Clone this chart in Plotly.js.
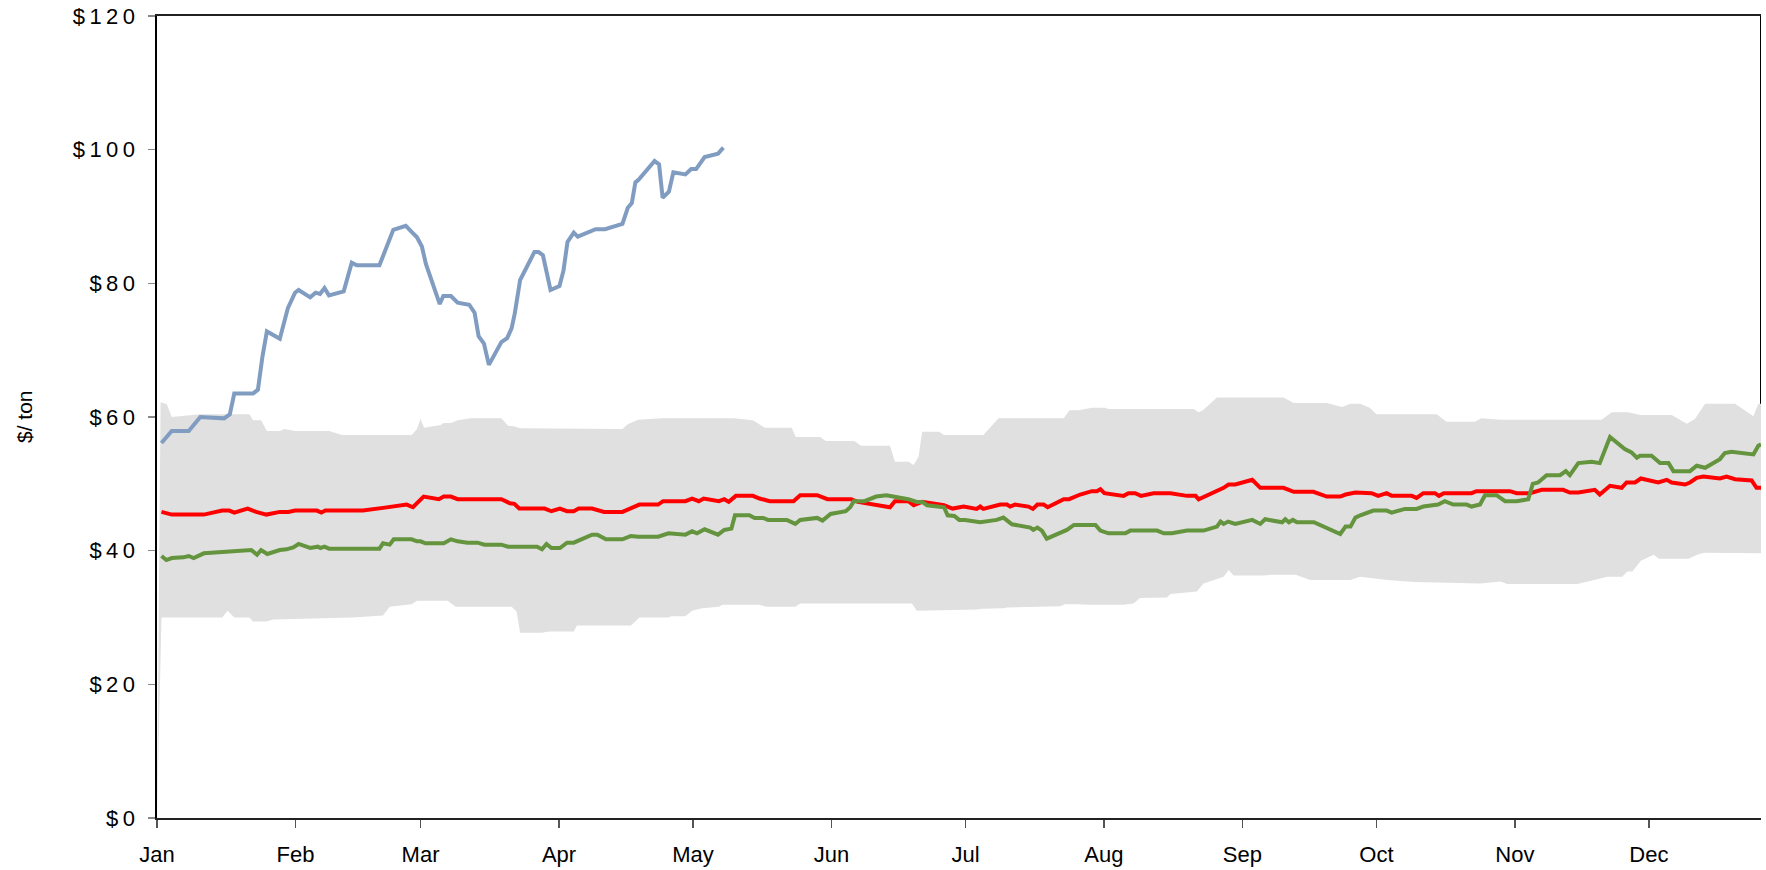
<!DOCTYPE html>
<html>
<head>
<meta charset="utf-8">
<script src="https://cdn.plot.ly/plotly-3.0.1.min.js"></script>
<style>
  html, body { margin: 0; padding: 0; background: #fff; }
  #chart { width: 1766px; height: 870px; }
  .ytick text { letter-spacing: 4.5px; }
</style>
</head>
<body>
<div id="chart"></div>
<script>
// x values are day offsets from Jan 1
const monthStarts = [0, 31, 59, 90, 120, 151, 181, 212, 243, 273, 304, 334];
const monthLabels = ['Jan', 'Feb', 'Mar', 'Apr', 'May', 'Jun', 'Jul', 'Aug', 'Sep', 'Oct', 'Nov', 'Dec'];
const yTickVals = [0, 20, 40, 60, 80, 100, 120];
const yTickText = ['$0', '$20', '$40', '$60', '$80', '$100', '$120'];
const xEnd = 359.1;

// historic range band (low / high)
const bandLoDay = [0, 1.0, 14.6, 15.8, 17.3, 20.7, 21.5, 24.5, 26.0, 43.8, 50.6, 52.1, 57.0, 58.2, 65.0, 66.9, 79.4, 80.5, 81.3, 86.2,
  87.7, 93.3, 94.0, 106.1, 108.0, 114.5, 115.2, 118.3, 119.8, 122.0, 125.8, 126.6, 134.9, 136.4, 142.9, 144.0, 169.0, 170.1, 183.6, 184.7,
  189.5, 190.3, 202.2, 203.3, 205.9, 208.9, 216.4, 218.6, 220.1, 226.1, 226.9, 232.8, 234.3, 237.3, 238.8, 239.9, 241.0, 247.8, 249.3, 254.9,
  258.2, 267.2, 269.4, 275.4, 281.4, 296.3, 300.8, 302.3, 318.0, 321.7, 324.7, 328.0, 329.2, 330.3, 332.2, 335.1, 336.2, 342.9, 344.8, 346.3, 359.1];
const bandLo = [0, 30.0, 30.0, 31.0, 30.0, 30.0, 29.4, 29.4, 29.7, 30.0, 30.3, 31.6, 32.0, 32.5, 32.5, 31.6, 31.6, 30.9, 27.7, 27.7,
  27.9, 27.9, 28.8, 28.8, 30.0, 30.0, 30.2, 30.2, 31.0, 31.4, 31.6, 31.9, 31.9, 31.6, 31.6, 32.1, 32.1, 31.0, 31.2, 31.3,
  31.4, 31.5, 31.7, 32.0, 32.0, 31.9, 31.9, 32.1, 32.9, 33.0, 33.5, 33.9, 35.1, 35.8, 36.1, 37.1, 36.3, 36.3, 36.4, 36.4,
  35.6, 35.6, 36.1, 35.6, 35.3, 35.1, 35.4, 35.0, 35.0, 35.6, 36.1, 36.1, 36.9, 36.9, 38.5, 39.4, 38.8, 38.8, 39.4, 39.7, 39.6];

const bandHiDay = [0.8, 2.2, 3.3, 9.7, 20.7, 21.5, 23.3, 24.6, 27.5, 28.5, 30.9, 38.5, 41.5, 57.0, 58.2, 59.0, 59.8, 63.5, 64.2, 65.8,
  67.3, 70.3, 77.1, 78.6, 79.8, 81.3, 104.2, 105.4, 107.7, 113.0, 129.2, 133.4, 136.1, 142.1, 143.0, 148.5, 149.7, 156.1, 157.6, 164.1,
  165.2, 168.2, 169.4, 170.5, 171.3, 175.1, 176.2, 185.0, 188.4, 203.0, 204.3, 206.3, 209.3, 212.3, 213.0, 232.1, 233.2, 234.3, 237.3, 252.2,
  254.5, 261.9, 265.3, 267.2, 269.4, 271.5, 273.0, 286.5, 288.7, 295.0, 296.5, 300.6, 323.4, 325.7, 329.4, 332.0, 339.1, 342.5, 344.3, 346.6,
  353.3, 357.4, 358.5, 359.1];
const bandHi = [62.2, 61.9, 60.0, 60.4, 60.4, 59.5, 59.5, 57.9, 57.9, 58.2, 57.9, 57.9, 57.3, 57.3, 58.2, 59.7, 58.4, 58.8, 59.1, 59.1,
  59.5, 59.8, 59.8, 58.7, 58.6, 58.3, 58.2, 58.9, 59.6, 59.8, 59.8, 59.5, 58.4, 58.4, 57.0, 57.0, 56.4, 56.4, 55.7, 55.7,
  53.3, 53.3, 52.8, 54.1, 57.8, 57.8, 57.3, 57.3, 59.8, 59.8, 61.0, 61.0, 61.4, 61.4, 61.2, 61.2, 60.7, 61.1, 62.9, 62.9,
  62.1, 62.1, 61.5, 62.0, 62.0, 61.4, 60.4, 60.4, 59.3, 59.3, 59.8, 59.6, 59.6, 60.7, 60.7, 60.3, 60.3, 59.0, 59.7, 62.0,
  62.0, 60.1, 62.0, 62.0];

// average (red)
const avgDay = [1.0, 3.3, 10.5, 14.6, 16.2, 17.3, 20.3, 22.2, 24.5, 27.5, 29.4, 30.9, 35.8, 36.8, 37.7, 46.1, 50.6, 55.9, 57.3, 59.7,
  63.1, 64.2, 65.8, 67.3, 77.1, 79.0, 80.0, 81.1, 86.8, 88.3, 90.2, 91.8, 93.3, 94.4, 97.4, 100.1, 104.2, 106.1, 108.0, 112.2,
  113.3, 118.3, 119.8, 121.3, 122.4, 125.8, 127.0, 128.0, 129.6, 133.4, 134.9, 137.2, 142.5, 144.0, 147.8, 150.1, 155.4, 156.9, 161.4, 164.1,
  165.2, 168.2, 169.4, 171.3, 176.2, 178.1, 180.6, 183.5, 184.3, 185.0, 188.8, 190.3, 191.0, 192.1, 195.1, 196.1, 197.1, 198.5, 199.4, 203.0,
  204.2, 206.7, 209.3, 210.4, 211.2, 212.1, 216.4, 217.5, 219.0, 220.3, 223.1, 226.9, 230.6, 232.5, 233.2, 237.3, 238.8, 239.9, 241.4, 245.2,
  247.0, 252.2, 254.5, 258.9, 261.9, 264.9, 266.1, 268.3, 271.9, 273.4, 275.3, 276.4, 280.9, 282.0, 283.5, 286.1, 287.0, 288.1, 294.3, 295.4,
  302.9, 304.4, 307.4, 310.0, 314.8, 316.3, 318.2, 321.9, 323.0, 325.3, 327.9, 329.0, 330.9, 332.2, 336.1, 338.0, 339.1, 342.1, 343.2, 344.7,
  346.2, 349.9, 351.4, 353.3, 357.0, 358.1, 359.1];
const avgVal = [45.8, 45.4, 45.4, 46.0, 46.0, 45.7, 46.3, 45.8, 45.4, 45.8, 45.8, 46.0, 46.0, 45.7, 46.0, 46.0, 46.4, 46.9, 46.5, 48.1,
  47.7, 48.1, 48.1, 47.7, 47.7, 47.1, 47.0, 46.3, 46.3, 45.9, 46.3, 45.9, 45.9, 46.3, 46.3, 45.8, 45.8, 46.3, 46.9, 46.9,
  47.4, 47.4, 47.8, 47.4, 47.8, 47.4, 47.7, 47.3, 48.2, 48.2, 47.8, 47.4, 47.4, 48.3, 48.3, 47.7, 47.7, 47.3, 46.8, 46.5,
  47.4, 47.4, 46.8, 47.3, 46.8, 46.3, 46.6, 46.25, 46.6, 46.25, 46.9, 46.9, 46.6, 46.9, 46.6, 46.25, 46.9, 46.9, 46.5, 47.7,
  47.7, 48.4, 48.9, 48.9, 49.2, 48.6, 48.2, 48.6, 48.6, 48.2, 48.6, 48.6, 48.2, 48.2, 47.7, 48.9, 49.4, 49.9, 49.9, 50.6,
  49.4, 49.4, 48.8, 48.8, 48.1, 48.1, 48.4, 48.7, 48.6, 48.2, 48.6, 48.2, 48.2, 47.9, 48.6, 48.6, 48.2, 48.6, 48.6, 48.9,
  48.9, 48.6, 48.6, 49.1, 49.1, 48.7, 48.7, 49.1, 48.4, 49.7, 49.4, 50.2, 50.2, 50.8, 50.2, 50.6, 50.2, 49.9, 50.2, 50.9,
  51.1, 50.8, 51.1, 50.7, 50.5, 49.4, 49.4];

// last year (green)
const lastDay = [1.0, 2.1, 3.3, 5.9, 7.1, 8.2, 10.5, 17.3, 21.1, 22.4, 23.3, 24.7, 27.5, 29.0, 30.5, 31.7, 34.3, 36.0, 36.6, 37.5,
  38.5, 49.8, 50.6, 52.1, 53.0, 57.0, 58.2, 59.0, 60.1, 64.2, 65.8, 67.3, 69.5, 71.8, 73.3, 77.1, 78.6, 85.1, 86.2, 87.2,
  88.3, 90.2, 91.8, 93.3, 97.4, 98.6, 100.5, 104.2, 106.1, 107.7, 112.2, 114.5, 118.3, 119.8, 120.9, 122.6, 125.6, 127.0, 128.6, 129.4,
  132.6, 133.8, 135.7, 136.8, 141.0, 142.9, 144.0, 147.8, 149.0, 150.8, 154.2, 155.2, 156.0, 158.4, 161.0, 163.3, 164.1, 168.2, 170.1, 171.3,
  172.4, 176.2, 177.0, 178.5, 179.6, 180.9, 184.3, 188.0, 189.5, 191.4, 195.5, 196.2, 197.1, 198.1, 199.2, 203.7, 205.3, 210.1, 211.2, 213.0,
  216.8, 217.9, 223.9, 225.4, 227.2, 230.6, 234.3, 237.3, 238.1, 238.8, 239.8, 241.4, 245.2, 247.0, 248.1, 251.9, 252.6, 253.4, 254.3, 255.2,
  259.0, 261.2, 264.9, 266.1, 267.2, 268.3, 269.4, 272.3, 275.3, 276.4, 279.4, 282.0, 283.5, 286.8, 288.3, 290.2, 293.2, 294.3, 296.2, 297.3,
  299.9, 301.8, 304.4, 307.0, 308.0, 309.2, 311.1, 314.1, 315.4, 316.3, 318.2, 321.2, 323.0, 325.3, 328.6, 330.1, 331.3, 332.0, 334.6, 336.5,
  338.4, 339.5, 343.2, 344.7, 346.6, 349.9, 351.0, 352.5, 357.4, 358.5, 359.1];
const lastVal = [39.2, 38.6, 38.9, 39.0, 39.2, 38.9, 39.6, 39.9, 40.1, 39.4, 40.1, 39.5, 40.1, 40.2, 40.5, 41.0, 40.4, 40.6, 40.4, 40.6,
  40.3, 40.3, 41.1, 40.9, 41.7, 41.7, 41.4, 41.4, 41.1, 41.1, 41.7, 41.4, 41.2, 41.2, 40.9, 40.9, 40.6, 40.6, 40.2, 41.0,
  40.4, 40.4, 41.2, 41.2, 42.4, 42.4, 41.7, 41.7, 42.2, 42.1, 42.1, 42.6, 42.4, 42.9, 42.6, 43.2, 42.4, 43.1, 43.3, 45.3,
  45.3, 44.9, 44.9, 44.6, 44.6, 44.0, 44.6, 44.9, 44.5, 45.5, 45.9, 46.5, 47.4, 47.4, 48.1, 48.3, 48.2, 47.7, 47.3, 47.3,
  46.8, 46.5, 45.3, 45.2, 44.6, 44.6, 44.25, 44.6, 44.95, 43.95, 43.45, 43.1, 43.45, 43.0, 41.8, 43.1, 43.85, 43.85, 43.0, 42.6,
  42.6, 43.0, 43.0, 42.6, 42.6, 43.0, 43.0, 43.6, 44.35, 44.0, 44.35, 44.0, 44.6, 44.0, 44.7, 44.25, 44.7, 44.25, 44.6, 44.25,
  44.25, 43.6, 42.5, 43.6, 43.6, 44.95, 45.3, 46.0, 46.0, 45.7, 46.25, 46.25, 46.6, 46.9, 47.4, 46.9, 46.9, 46.6, 46.9, 48.3,
  48.3, 47.4, 47.4, 47.7, 50.0, 50.2, 51.3, 51.3, 51.9, 51.3, 53.1, 53.3, 53.1, 57.0, 55.2, 54.7, 53.9, 54.2, 54.2, 53.1,
  53.1, 51.9, 51.9, 52.7, 52.4, 53.7, 54.6, 54.8, 54.4, 55.7, 55.9];

// current year (blue)
const curDay = [1.0, 3.3, 7.1, 9.7, 15.0, 16.3, 17.3, 21.5, 22.6, 23.6, 24.6, 27.5, 29.3, 30.9, 31.7, 34.3, 35.5, 36.5, 37.5, 38.5,
  41.8, 43.6, 44.7, 49.8, 52.9, 55.7, 57.0, 58.2, 59.3, 60.2, 63.3, 64.1, 65.8, 67.3, 69.9, 71.1, 72.0, 73.2, 74.3, 77.1,
  78.4, 79.4, 80.1, 81.3, 84.5, 85.4, 86.4, 88.1, 90.1, 91.0, 91.9, 93.3, 94.2, 96.3, 98.2, 100.3, 104.2, 105.4, 106.3, 107.1,
  107.8, 111.4, 112.4, 113.2, 114.6, 115.6, 118.3, 119.6, 120.7, 122.6, 125.6, 126.8];
const curVal = [56.1, 57.9, 57.9, 60.0, 59.8, 60.4, 63.5, 63.5, 64.1, 69.0, 72.8, 71.7, 76.3, 78.6, 79.0, 77.9, 78.6, 78.4, 79.3, 78.2,
  78.8, 83.1, 82.7, 82.7, 88.0, 88.6, 87.7, 86.9, 85.5, 82.9, 76.9, 78.1, 78.1, 77.1, 76.8, 75.6, 72.1, 71.0, 67.8, 71.2,
  71.8, 73.3, 75.5, 80.5, 84.7, 84.7, 84.2, 79.0, 79.6, 81.9, 86.2, 87.6, 87.0, 87.6, 88.1, 88.1, 88.9, 91.3, 92.0, 95.1,
  95.5, 98.3, 97.8, 92.8, 93.7, 96.6, 96.3, 97.1, 97.1, 98.9, 99.4, 100.3];

const FONT = '"Liberation Sans", Arial, sans-serif';

const traces = [
  { x: bandLoDay, y: bandLo, type: 'scatter', mode: 'lines', line: { width: 0, color: 'rgba(0,0,0,0)' }, hoverinfo: 'skip' },
  { x: bandHiDay, y: bandHi, type: 'scatter', mode: 'lines', fill: 'tonexty', fillcolor: '#e0e0e0',
    line: { width: 0, color: 'rgba(0,0,0,0)' }, hoverinfo: 'skip' },
  { x: avgDay, y: avgVal, type: 'scatter', mode: 'lines', line: { color: '#ff0000', width: 4 } },
  { x: lastDay, y: lastVal, type: 'scatter', mode: 'lines', line: { color: '#64943e', width: 4 } },
  { x: curDay, y: curVal, type: 'scatter', mode: 'lines', line: { color: '#819cc1', width: 4 } }
];

const layout = {
  width: 1766, height: 870,
  margin: { l: 157, r: 5, t: 16, b: 52 },
  paper_bgcolor: '#fff', plot_bgcolor: '#fff',
  showlegend: false,
  font: { family: FONT, color: '#000' },
  xaxis: {
    range: [0, xEnd], tickmode: 'array', tickvals: monthStarts, ticktext: monthLabels,
    showgrid: false, zeroline: false,
    showline: true, linecolor: '#222', linewidth: 2, mirror: true,
    ticks: 'outside', ticklen: 8, tickwidth: 1.5, tickcolor: '#555',
    ticklabelstandoff: 8,
    tickfont: { size: 22, family: FONT, color: '#000' }
  },
  yaxis: {
    range: [0, 120], tickmode: 'array', tickvals: yTickVals, ticktext: yTickText,
    showgrid: false, zeroline: false,
    showline: true, linecolor: '#000', linewidth: 2,
    ticks: 'outside', ticklen: 7, tickwidth: 1.5, tickcolor: '#888',
    ticklabelstandoff: 4,
    tickfont: { size: 22, family: FONT, color: '#000' }
  },
  shapes: [
    { type: 'line', xref: 'x', yref: 'y', x0: xEnd, x1: xEnd, y0: bandHi[bandHi.length - 1], y1: 120,
      line: { color: '#000', width: 2 } }
  ],
  annotations: [
    { text: '$/ ton', xref: 'paper', yref: 'paper', x: 0, y: 0.5, xanchor: 'center', yanchor: 'middle',
      xshift: -133, textangle: -90, showarrow: false, font: { size: 21, family: FONT, color: '#000' } }
  ]
};

Plotly.newPlot('chart', traces, layout, { staticPlot: true, displayModeBar: false });
</script>
</body>
</html>
